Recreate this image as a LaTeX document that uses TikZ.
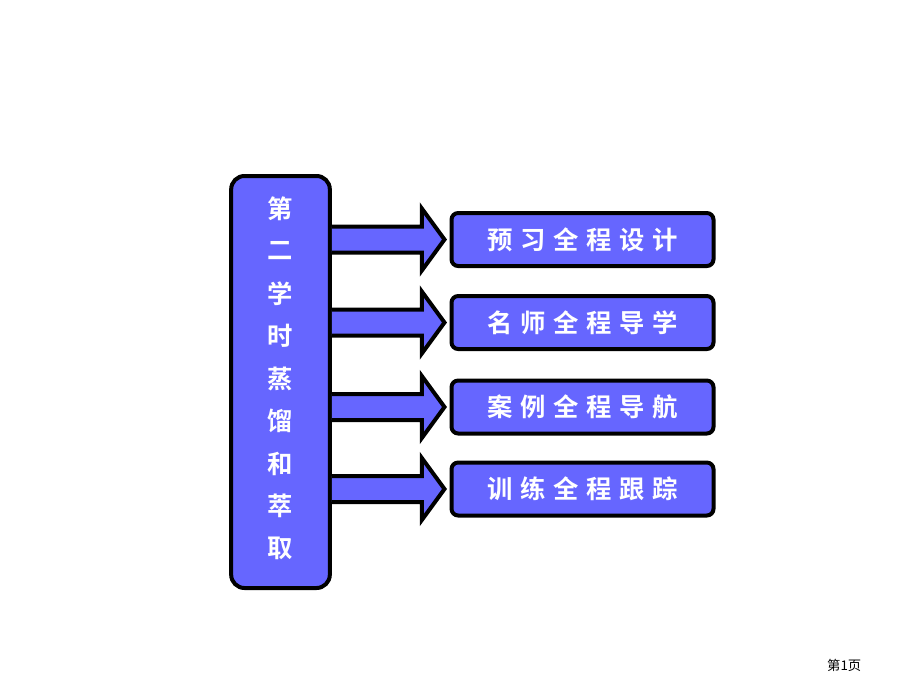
\documentclass[tikz,border=0pt]{standalone}
\usepackage{fontspec}
\newfontfamily\cjk{Noto Sans CJK SC Bold}
\newfontfamily\cjkplain{Noto Sans CJK SC}
\newfontfamily\cjkwide[LetterSpace=30]{Noto Sans CJK SC Bold}
\usetikzlibrary{positioning,calc}
\definecolor{boxblue}{HTML}{6666FF}
\tikzset{
  item/.style={draw=black, line width=3pt, fill=boxblue, rounded corners=5pt,
    minimum width=196.5pt, minimum height=39.75pt, text=white, font=\cjkwide\fontsize{19}{19}\selectfont},
  pointer/.style={draw=black, line width=3pt, fill=boxblue, line join=miter}
}
\begin{document}
\begin{tikzpicture}[x=0.75pt,y=-0.75pt]
\useasboundingbox (0,0) rectangle (920,690);

% Left column
\node[draw=black, line width=3pt, fill=boxblue, rounded corners=10pt,
  minimum width=74pt, minimum height=309pt] (topic) at (280.5,382) {};
\foreach \ch [count=\i] in {第,二,学,时,蒸,馏,和,萃,取}
  \node[text=white, font=\cjk\fontsize{19}{19}\selectfont] at (280.5,{166+42.5*\i}) {\ch};

% Right boxes
\node[item] (s1) at (582.5,239.5) {预习全程设计};
\node[item] (s2) at (582.5,322.5) {名师全程导学};
\node[item] (s3) at (582.5,407) {案例全程导航};
\node[item] (s4) at (582.5,489) {训练全程跟踪};

% Block arrows
\foreach \n in {s1,s2,s3,s4}
  \draw[pointer] ($(topic.east|-\n.west)+(0,-13)$) -- ++(90,0) -- ++(0,-18)
    -- ($(\n.west)+(-5,0)$) coordinate (tip\n) -- ($(topic.east|-\n.west)+(90,31)$)
    -- ++(0,-18) -- ($(topic.east|-\n.west)+(0,13)$);

\node[font=\cjkplain\fontsize{10}{10}\selectfont, anchor=east] (page) at (866,665) {第1页};
\end{tikzpicture}
\end{document}
